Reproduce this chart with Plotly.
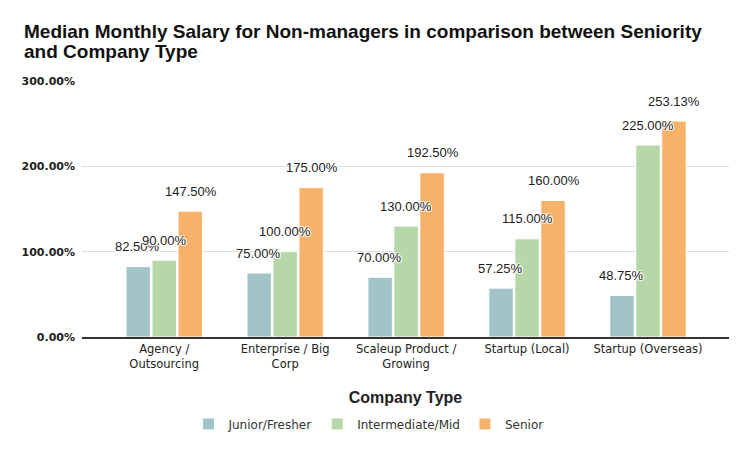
import plotly.graph_objects as go

categories = ["Agency /<br>Outsourcing", "Enterprise / Big<br>Corp", "Scaleup Product /<br>Growing",
              "Startup (Local)", "Startup (Overseas)"]
series_names = ["Junior/Fresher", "Intermediate/Mid", "Senior"]
junior = [82.50, 75.00, 70.00, 57.25, 48.75]
mid = [90.00, 100.00, 130.00, 115.00, 225.00]
senior = [147.50, 175.00, 192.50, 160.00, 253.13]
colors = ["#a2c4c9", "#b6d7a8", "#f6b26b"]
y_ticks = [0, 100, 200, 300]
title_lines = ["Median Monthly Salary for Non-managers in comparison between Seniority",
               "and Company Type"]

series = [junior, mid, senior]
fig = go.Figure()
for name, vals, col in zip(series_names, series, colors):
    fig.add_trace(go.Bar(x=categories, y=vals, name=name,
                         marker=dict(color=col, line=dict(color="white", width=1)),
                         hoverinfo="skip"))

halo = "-1px -1px 0 #fff, 1px -1px 0 #fff, -1px 1px 0 #fff, 1px 1px 0 #fff"
offsets = [-26.5, 0, 26.5]
for i, vals in enumerate(series):
    for c, v in zip(categories, vals):
        fig.add_annotation(x=c, y=v, text=f"{v:.2f}%", showarrow=False,
                           xshift=offsets[i], yshift=20, yanchor="middle",
                           font=dict(family="Liberation Sans, Arial", size=13, color="#222",
                                     shadow=halo))

# two-line title with tight line spacing
for k, line in enumerate(title_lines):
    fig.add_annotation(text=line, xref="paper", yref="paper",
                       x=(22 - 82) / 647, xanchor="left",
                       y=(337 - (31 + 20 * k)) / 256, yanchor="middle",
                       showarrow=False,
                       font=dict(family="Liberation Sans, Arial", size=19, color="#111", weight="bold"))

fig.update_layout(
    width=752, height=454,
    margin=dict(l=82, r=23, t=81, b=117, autoexpand=False),
    plot_bgcolor="white", paper_bgcolor="white",
    barmode="group", bargap=0.355, bargroupgap=0.06,
    xaxis=dict(range=[-0.68, 4.67], showgrid=False, showline=True, linecolor="#333", linewidth=2,
               automargin=False,
               tickfont=dict(family="DejaVu Sans, Verdana", size=11.5, color="#222"),
               title=dict(text="Company Type", standoff=22,
                          font=dict(family="Liberation Sans, Arial", size=16, color="#222", weight="bold"))),
    yaxis=dict(range=[0, 300], tickvals=y_ticks, ticktext=[f"{t:.2f}%" for t in y_ticks],
               showgrid=True, gridcolor="#dddddd", zeroline=False, automargin=False,
               tickfont=dict(family="DejaVu Sans, Verdana", size=11, color="#222", weight="bold"),
               ticks="", ticklen=0, ticklabelstandoff=6),
    legend=dict(orientation="h", xref="container", x=0.49, xanchor="center", y=-0.283, yanchor="top",
                font=dict(family="DejaVu Sans, Verdana", size=12, color="#333")),
    showlegend=True,
)
fig.write_html("out.html", config={"displayModeBar": False},
               post_script="document.body.style.margin='0';")
